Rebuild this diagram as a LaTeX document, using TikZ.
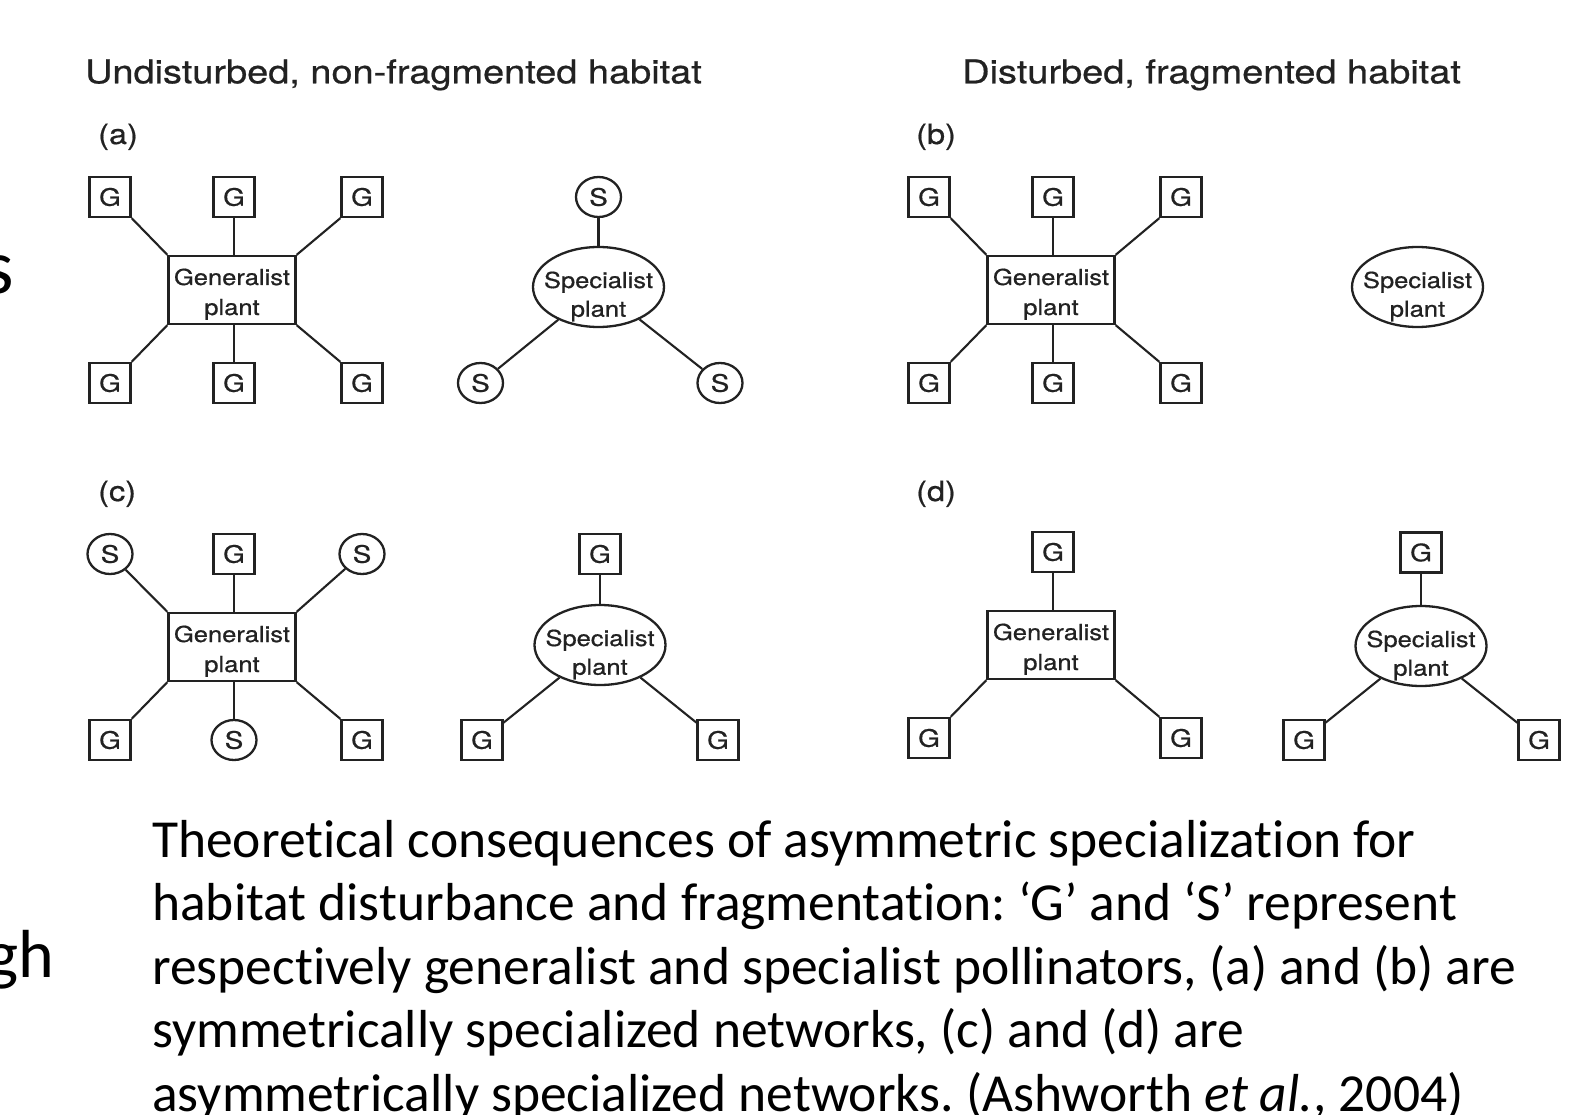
\documentclass[tikz,border=0pt]{standalone}
\usepackage{fontspec}
\setmainfont{Carlito}[Ligatures=NoCommon]
\newfontfamily\hv{TeX Gyre Heros}[FakeBold=0.6]
\usepackage{graphicx}
\usetikzlibrary{shapes.geometric}
\frenchspacing
\definecolor{ink}{HTML}{222222}
\newcommand\hs[1]{\scalebox{1.16}[1]{#1}}
\newcommand\twol[4]{\smash{\makebox[0pt]{\raisebox{#3pt}{\makebox[0pt]{\hs{#1}}}\raisebox{#4pt}{\makebox[0pt]{\hs{#2}}}}}}
\tikzset{
  gbox/.style={draw=ink, line width=2.3pt, minimum width=41pt, minimum height=40pt, inner sep=0pt, text=ink, font=\hv\fontsize{24}{24}\selectfont},
  sbox/.style={gbox, ellipse, minimum width=45pt, minimum height=40pt},
  genp/.style={draw=ink, line width=2.3pt, minimum width=127pt, minimum height=68pt, inner sep=0pt, text=ink, font=\hv\fontsize{22}{22}\selectfont},
  specp/.style={genp, ellipse, minimum width=131pt, minimum height=80pt},
  link/.style={draw=ink, line width=2.1pt},
  ttl/.style={anchor=base west, inner sep=0pt, text=ink, font=\hv\fontsize{32.7}{36}\selectfont},
  plabel/.style={anchor=base west, inner sep=0pt, text=ink, font=\hv\fontsize{28}{30}\selectfont},
  capline/.style={anchor=base west, inner sep=0pt, text=black, font=\fontsize{53.5}{64}\selectfont},
}
\begin{document}
\begin{tikzpicture}[x=1pt,y=-1pt]
\useasboundingbox (0,0) rectangle (1591,1115);
\fill[white] (0,0) rectangle (1591,1115);
\clip (0,0) rectangle (1591,1115);

% stray slide text at left edge
\node[anchor=base east, inner sep=0pt, font=\fontsize{78}{80}\selectfont] (strays) at (14,294) {s};
\node[anchor=base east, inner sep=0pt, font=\fontsize{68}{70}\selectfont] (straygh) at (54,977) {gh};

% titles
\node[ttl] (t1) at (85,83.3) {\hs{Undisturbed, non-fragmented habitat}};
\node[ttl] (t2) at (962,83.3) {\hs{Disturbed, fragmented habitat}};

% ---------- (a) ----------
\node[plabel] (la) at (98,144) {\hs{(a)}};
\node[gbox] (a1) at (110,197) {\hs{G}};
\node[gbox] (a2) at (234,197) {\hs{G}};
\node[gbox] (a3) at (362,197) {\hs{G}};
\node[gbox] (a4) at (110,383) {\hs{G}};
\node[gbox] (a5) at (234,383) {\hs{G}};
\node[gbox] (a6) at (362,383) {\hs{G}};
\node[genp] (ag) at (232,290) {\twol{Generalist}{plant}{5}{-25}};
\draw[link] (a1.south east) -- (ag.north west);
\draw[link] (a2.south) -- (a2.south |- ag.north);
\draw[link] (a3.south west) -- (ag.north east);
\draw[link] (ag.south west) -- (a4.north east);
\draw[link] (a5.north |- ag.south) -- (a5.north);
\draw[link] (ag.south east) -- (a6.north west);
\node[specp] (as) at (598.5,287) {\twol{Specialist}{plant}{-1}{-29.7}};
\node[sbox] (as1) at (598.5,197) {\hs{S}};
\node[sbox] (as2) at (480.5,383) {\hs{S}};
\node[sbox] (as3) at (720,383) {\hs{S}};
\draw[link] (as1) -- (as);
\draw[link] (as) -- (as2);
\draw[link] (as) -- (as3);

% ---------- (b) ----------
\node[plabel] (lb) at (916,144) {\hs{(b)}};
\node[gbox] (b1) at (929,197) {\hs{G}};
\node[gbox] (b2) at (1053,197) {\hs{G}};
\node[gbox] (b3) at (1181,197) {\hs{G}};
\node[gbox] (b4) at (929,383) {\hs{G}};
\node[gbox] (b5) at (1053,383) {\hs{G}};
\node[gbox] (b6) at (1181,383) {\hs{G}};
\node[genp] (bg) at (1051,290) {\twol{Generalist}{plant}{5}{-25}};
\draw[link] (b1.south east) -- (bg.north west);
\draw[link] (b2.south) -- (b2.south |- bg.north);
\draw[link] (b3.south west) -- (bg.north east);
\draw[link] (bg.south west) -- (b4.north east);
\draw[link] (b5.north |- bg.south) -- (b5.north);
\draw[link] (bg.south east) -- (b6.north west);
\node[specp] (bs) at (1417.5,287) {\twol{Specialist}{plant}{-1}{-29.7}};

% ---------- (c) ----------
\node[plabel] (lc) at (98,501) {\hs{(c)}};
\node[sbox] (c1) at (110,554) {\hs{S}};
\node[gbox] (c2) at (234,554) {\hs{G}};
\node[sbox] (c3) at (362,554) {\hs{S}};
\node[gbox] (c4) at (110,740) {\hs{G}};
\node[sbox] (c5) at (234,740) {\hs{S}};
\node[gbox] (c6) at (362,740) {\hs{G}};
\node[genp] (cg) at (232,647) {\twol{Generalist}{plant}{5}{-25}};
\draw[link] (c1) -- (cg.north west);
\draw[link] (c2.south) -- (c2.south |- cg.north);
\draw[link] (c3) -- (cg.north east);
\draw[link] (cg.south west) -- (c4.north east);
\draw[link] (c5.north |- cg.south) -- (c5.north);
\draw[link] (cg.south east) -- (c6.north west);
\node[specp] (cs) at (600,645) {\twol{Specialist}{plant}{-1}{-29.7}};
\node[gbox] (cs1) at (600,554) {\hs{G}};
\node[gbox] (cs2) at (482,740) {\hs{G}};
\node[gbox] (cs3) at (718,740) {\hs{G}};
\draw[link] (cs1) -- (cs);
\draw[link] (cs) -- (cs2);
\draw[link] (cs) -- (cs3);

% ---------- (d) ----------
\node[plabel] (ld) at (916,501) {\hs{(d)}};
\node[gbox] (d2) at (1053,552) {\hs{G}};
\node[gbox] (d4) at (929,738) {\hs{G}};
\node[gbox] (d6) at (1181,738) {\hs{G}};
\node[genp] (dg) at (1051,645) {\twol{Generalist}{plant}{5}{-25}};
\draw[link] (d2.south) -- (d2.south |- dg.north);
\draw[link] (dg.south west) -- (d4.north east);
\draw[link] (dg.south east) -- (d6.north west);
\node[specp] (ds) at (1421,646) {\twol{Specialist}{plant}{-1}{-29.7}};
\node[gbox] (ds1) at (1421,552.5) {\hs{G}};
\node[gbox] (ds2) at (1304,740) {\hs{G}};
\node[gbox] (ds3) at (1539,740) {\hs{G}};
\draw[link] (ds1) -- (ds);
\draw[link] (ds) -- (ds2);
\draw[link] (ds) -- (ds3);

% ---------- caption ----------
\node[capline] (cap1) at (152,857) {Theoretical consequences of asymmetric specialization for};
\node[capline] (cap2) at (152,920.6) {habitat disturbance and fragmentation: ‘G’ and ‘S’ represent};
\node[capline] (cap3) at (152,984.2) {respectively generalist and specialist pollinators, (a) and (b) are};
\node[capline] (cap4) at (152,1047.8) {symmetrically specialized networks, (c) and (d) are};
\node[capline] (cap5) at (152,1111.4) {asymmetrically specialized networks. (Ashworth \textit{et al.}, 2004)};
\end{tikzpicture}
\end{document}
